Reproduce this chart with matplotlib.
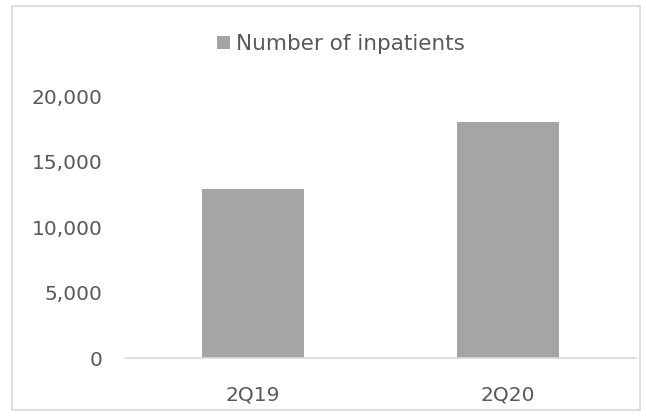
import matplotlib
matplotlib.use("Agg")
import matplotlib.pyplot as plt
from matplotlib.patches import Rectangle
from matplotlib.ticker import FuncFormatter

# datos del gráfico
trimestres = ["2Q19", "2Q20"]
pacientes = [12900, 18000]
ticks_y = [0, 5000, 10000, 15000, 20000]

color_barra = "#A5A5A5"
color_texto = "#595959"
color_linea = "#D9D9D9"

plt.rcParams["font.family"] = ["DejaVu Sans"]

fig = plt.figure(figsize=(6.46, 4.16), dpi=100)
ax = fig.add_axes([0.1935, 0.1394, 0.791, 0.6296])

ax.bar(range(len(trimestres)), pacientes, width=0.4, color=color_barra,
       label="Number of inpatients")

ax.set_xlim(-0.5, len(trimestres) - 0.5)
ax.set_ylim(0, 20000)
ax.set_yticks(ticks_y)
ax.yaxis.set_major_formatter(FuncFormatter(lambda v, p: f"{int(v):,}"))
ax.set_xticks(range(len(trimestres)))
ax.set_xticklabels(trimestres)

for lado in ["top", "right", "left"]:
    ax.spines[lado].set_visible(False)
ax.spines["bottom"].set_color(color_linea)
ax.spines["bottom"].set_linewidth(1.2)

ax.tick_params(axis="y", length=0, pad=16, labelsize=14.5, labelcolor=color_texto)
ax.tick_params(axis="x", length=0, pad=20, labelsize=14.5, labelcolor=color_texto)

leg = ax.legend(loc="center", bbox_to_anchor=(0.423, 1.198), frameon=False,
                fontsize=15.5, handlelength=0.6, handleheight=0.6,
                handletextpad=0.3, labelcolor=color_texto)

# marco exterior del gráfico
fig.patches.append(Rectangle((12 / 646, 6 / 416), 628 / 646, 404 / 416,
                             transform=fig.transFigure, fill=False,
                             edgecolor=color_linea, linewidth=1.2))

fig.savefig("out.png", dpi=100)
